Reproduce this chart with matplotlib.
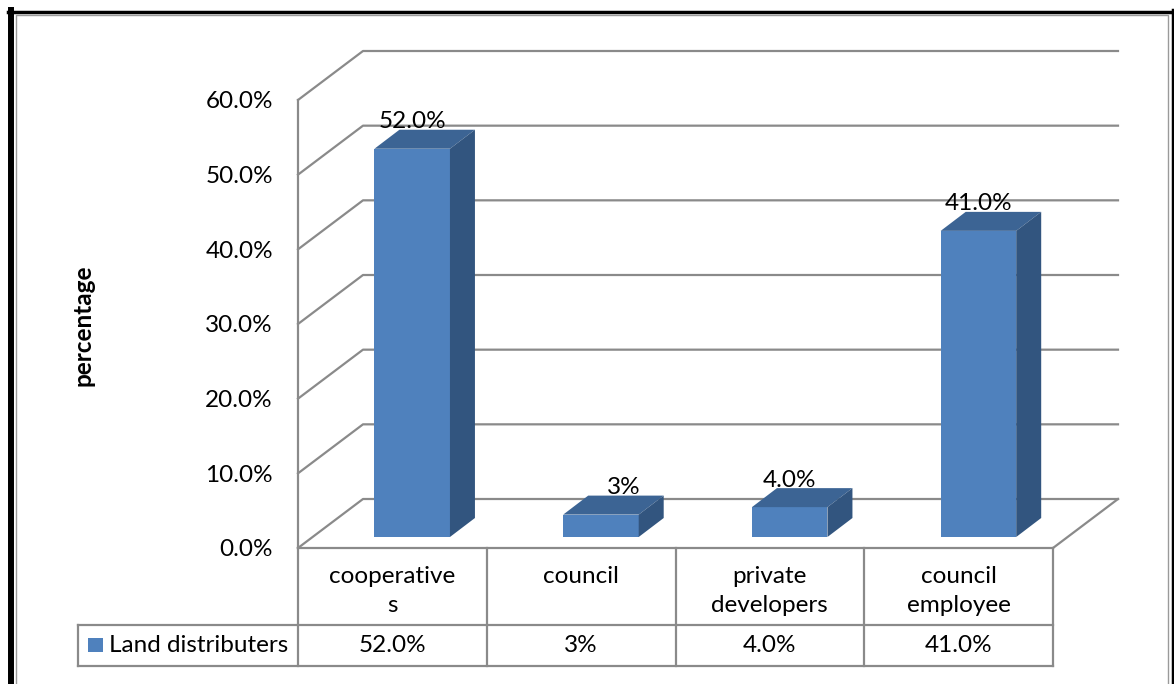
import matplotlib
matplotlib.use("Agg")
import matplotlib.pyplot as plt
from matplotlib.patches import Polygon, Rectangle
from matplotlib.lines import Line2D
import matplotlib.transforms as mtransforms

# ---- data ----
categories = ["cooperative\ns", "council", "private\ndevelopers", "council\nemployee"]
values = [52.0, 3, 4.0, 41.0]
decimals = [1, 0, 1, 1]
series_name = "Land distributers"
y_ticks = [0, 10, 20, 30, 40, 50, 60]

plt.rcParams["font.family"] = ["Lato", "DejaVu Sans"]
FS = 17.5

W, H = 1174, 684
fig = plt.figure(figsize=(W / 100, H / 100), dpi=100)


def fx(px):
    return px / W


def fy(py):
    return 1 - py / H


# front plane of the 3-D box
ax = fig.add_axes([fx(298), fy(548), (1053 - 298) / W, (548 - 100) / H])
ax.set_xlim(0, len(categories))
ax.set_ylim(0, 60)
ax.patch.set_visible(False)

px_per_x = (1053 - 298) / len(categories)
px_per_y = (548 - 100) / 60.0
DX = 65 / px_per_x       # depth of the box in data units
DY = 49 / px_per_y

grid_c = "#8a8a8a"
for t in y_ticks:
    ax.plot([0, DX, len(categories) + DX], [t, t + DY, t + DY],
            color=grid_c, lw=1.6, clip_on=False, zorder=1)
# floor right edge
ax.plot([len(categories), len(categories) + DX], [0, DY],
        color=grid_c, lw=1.6, clip_on=False, zorder=1)

for s in ["top", "right"]:
    ax.spines[s].set_visible(False)
for s in ["left", "bottom"]:
    ax.spines[s].set_color(grid_c)
    ax.spines[s].set_linewidth(1.6)

ax.set_yticks(y_ticks)
ax.set_yticklabels([f"{t:.1f}%" for t in y_ticks], fontsize=FS)
ax.tick_params(axis="y", length=0, pad=18)
ax.set_xticks([])

# ---- 3-D columns ----
bar_w = 0.4
off_x, off_y = 0.105, 11 / px_per_y          # bar front face offset into the box
ddx, ddy = 25 / px_per_x, 19 / px_per_y      # bar depth
c_front, c_top, c_side = "#4F81BD", "#3C6494", "#32557F"
label_nudge = [0, 23, 0, 0]

for i, v in enumerate(values):
    x0 = i + 0.5 - bar_w / 2 + off_x
    x1 = x0 + bar_w
    b = off_y
    t = b + v
    ax.add_patch(Polygon([(x0, b), (x1, b), (x1, t), (x0, t)],
                         closed=True, fc=c_front, ec="none", zorder=3, clip_on=False))
    ax.add_patch(Polygon([(x0, t), (x1, t), (x1 + ddx, t + ddy), (x0 + ddx, t + ddy)],
                         closed=True, fc=c_top, ec="none", zorder=3, clip_on=False))
    ax.add_patch(Polygon([(x1, b), (x1 + ddx, b + ddy), (x1 + ddx, t + ddy), (x1, t)],
                         closed=True, fc=c_side, ec="none", zorder=3, clip_on=False))
    lbl = f"{v:.{decimals[i]}f}%"
    ax.text((x0 + x1) / 2 + label_nudge[i] / px_per_x, t + ddy + 8 / px_per_y, lbl,
            ha="center", va="center", fontsize=FS, color="black", zorder=4, clip_on=False)

# ---- data table ----
tx = mtransforms.blended_transform_factory(ax.transData, fig.transFigure)
row_top, row_mid, row_bot = 548, 625, 666
leg_left = 78
n = len(categories)
for k in range(n + 1):
    fig.add_artist(Line2D([k, k], [fy(row_top), fy(row_bot)], transform=tx,
                          color=grid_c, lw=1.6))
fig.add_artist(Line2D([fx(leg_left), fx(1053)], [fy(row_mid), fy(row_mid)],
                      transform=fig.transFigure, color=grid_c, lw=1.6))
fig.add_artist(Line2D([fx(leg_left), fx(1053)], [fy(row_bot), fy(row_bot)],
                      transform=fig.transFigure, color=grid_c, lw=1.6))
fig.add_artist(Line2D([fx(leg_left), fx(leg_left)], [fy(row_mid), fy(row_bot)],
                      transform=fig.transFigure, color=grid_c, lw=1.6))

for i, (cat, v) in enumerate(zip(categories, values)):
    fig.text(i + 0.5, fy(566), cat, transform=tx, ha="center", va="top",
             fontsize=FS, linespacing=1.45)
    fig.text(i + 0.5, fy(646), f"{v:.{decimals[i]}f}%", transform=tx,
             ha="center", va="center", fontsize=FS)

fig.add_artist(Rectangle((fx(88), fy(652)), 15 / W, 14 / H, transform=fig.transFigure,
                         fc=c_front, ec="none"))
fig.text(fx(109), fy(646), series_name, ha="left", va="center", fontsize=FS)

# axis title
fig.text(fx(83), fy(325), "percentage", rotation=90, ha="center", va="center",
         fontsize=FS, fontweight="bold")

# ---- outer frame ----
fig.add_artist(Line2D([fx(10.5), fx(10.5)], [fy(684), fy(10)], transform=fig.transFigure,
                      color="black", lw=4.3))
fig.add_artist(Line2D([fx(8), fx(1174)], [fy(11.5), fy(11.5)], transform=fig.transFigure,
                      color="black", lw=2.5))
fig.add_artist(Line2D([fx(1172.5), fx(1172.5)], [fy(684), fy(10)], transform=fig.transFigure,
                      color="black", lw=2.5))
fig.add_artist(Line2D([fx(15.5), fx(15.5), fx(1168), fx(1168)],
                      [fy(684), fy(14.5), fy(14.5), fy(684)], transform=fig.transFigure,
                      color="#9a9a9a", lw=1.0))

fig.savefig("out.png", dpi=100)
